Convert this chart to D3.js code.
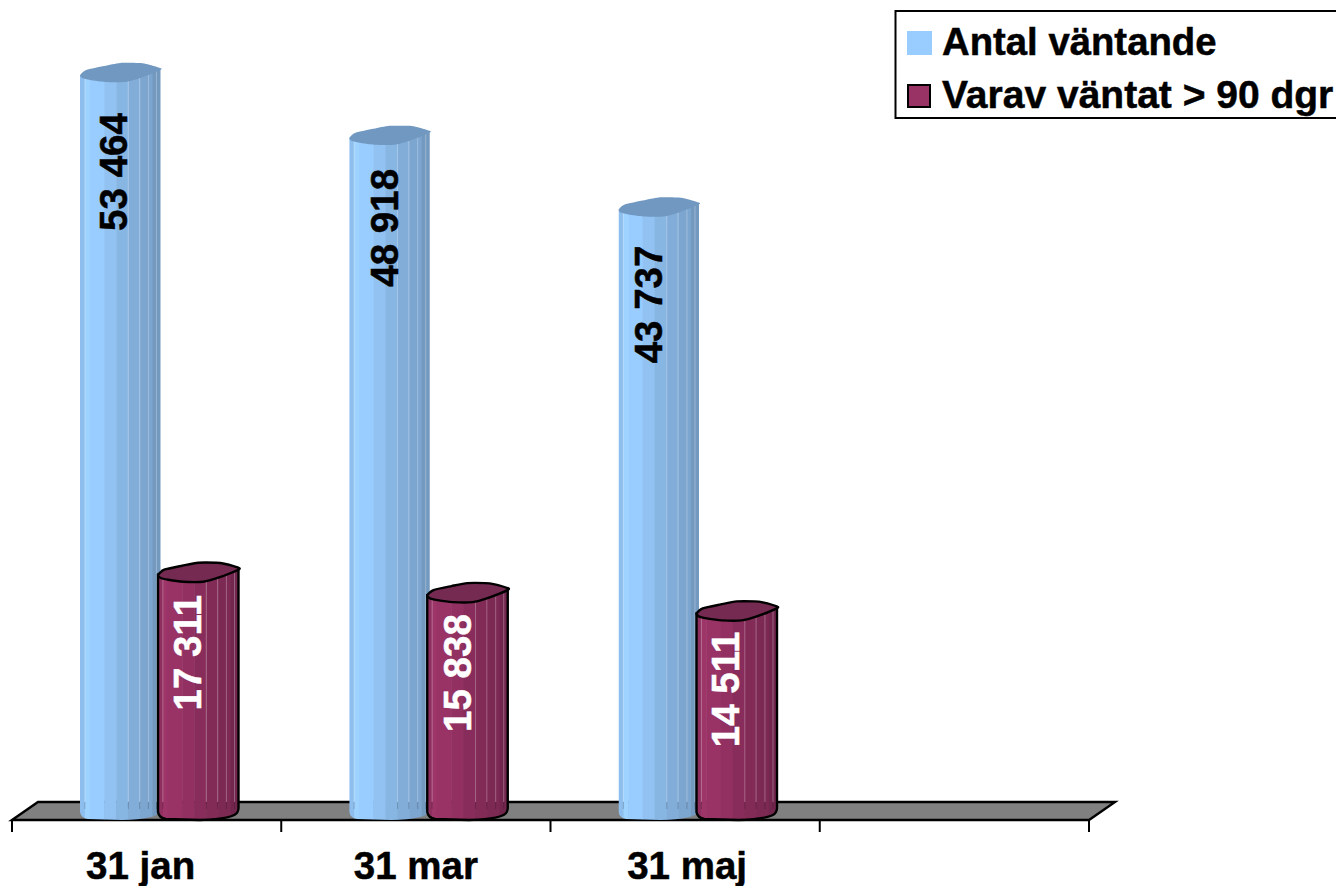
<!DOCTYPE html>
<html><head><meta charset="utf-8">
<script src="https://cdn.jsdelivr.net/npm/d3@7/dist/d3.min.js"></script>
<style>html,body{margin:0;padding:0;background:#fff;overflow:hidden}svg{display:block}text{font-family:"Liberation Sans",Arial,sans-serif;font-weight:700;stroke-width:.5px;paint-order:stroke}</style>
</head><body><svg id="c" width="1336" height="886"></svg>
<script>
const categories = ["31 jan","31 mar","31 maj",""];
const seriesNames = ["Antal väntande","Varav väntat > 90 dgr"];
const antalVantande = [53464,48918,43737];
const varavVantat = [17311,15838,14511];
const labelsAntal = ["53 464","48 918","43 737"];
const labelsVarav = ["17 311","15 838","14 511"];
const seriesColors = ["#99ccff","#993366"];
const topColors = ["#7098c0","#752a52"];

const svg = d3.select("#c");
const x = d3.scaleBand().domain(categories).range([12,1089]).paddingInner(0).paddingOuter(0);
const y = d3.scaleLinear().domain([0,53464]).range([811,72]);
const baseY = y(0);
const barW = 80.5, barOff = [68,146];

// floor
svg.append("polygon").attr("points","12,820 38,802 1115,802 1089,820")
  .attr("fill","#808080").attr("stroke","#000").attr("stroke-width",2.4);
// ticks
const tickX = categories.map(c=>x(c)).concat([x.range()[1]]);
svg.selectAll("line.t").data(tickX).join("line").attr("x1",d=>d).attr("x2",d=>d)
  .attr("y1",820).attr("y2",832).attr("stroke","#000").attr("stroke-width",2);
// axis labels
const labelShift=[-6,0,2];
svg.selectAll("text.cat").data(categories.slice(0,3)).join("text").attr("class","cat")
  .attr("x",(d,i)=>x(d)+x.bandwidth()/2+labelShift[i]).attr("y",879).attr("text-anchor","middle")
  .attr("font-size",38.5).attr("fill","#000").attr("stroke","#000").text(d=>d);

// cylinder facets: [start fraction, end fraction, shade]
const facets=[[0,.06,.93],[.06,.12,1.03],[.12,.3,1],[.3,.45,.95],[.45,.6,.89],[.6,.75,.85],[.75,.9,.81],[.9,1,.75]];
const glints=[.06,.6,.74,.85,.95];
const topOutline=[[-40,3],[-34,-2],[-16,-6],[0,-9],[18,-9],[26,-8],[40,-4],[40,-2],[20,6],[5,10],[-15,10],[-30,8],[-38,6]];
const topLine=d3.line().curve(d3.curveCardinalClosed.tension(.3));
let clipId=0;

function bar(value,cat,s){
  const x0=x(cat)+barOff[s], x1=x0+barW, cx=x0+barW/2, t=y(value), col=d3.rgb(seriesColors[s]);
  const body=`M${x0},${t+3}L${x0},${baseY+1}Q${x0+1},${baseY+7} ${x0+8},${baseY+8}L${x0+42},${baseY+9}Q${x1-4},${baseY+8} ${x1-1},${baseY+1}Q${x1},${baseY-1} ${x1},${baseY-3}L${x1},${t-3}Z`;
  const id="clip"+(clipId++);
  svg.append("clipPath").attr("id",id).append("path").attr("d",body);
  const g=svg.append("g").attr("clip-path",`url(#${id})`);
  g.selectAll("rect").data(facets).join("rect")
    .attr("x",d=>x0+d[0]*barW).attr("width",d=>(d[1]-d[0])*barW+.5)
    .attr("y",t-12).attr("height",baseY-t+24)
    .attr("fill",d=>d3.rgb(col.r*d[2],col.g*d[2],col.b*d[2]).formatHex());
  g.selectAll("line.g").data(glints).join("line")
    .attr("x1",d=>x0+d*barW).attr("x2",d=>x0+d*barW).attr("y1",t-12).attr("y2",baseY-9)
    .attr("stroke","#fff").attr("stroke-opacity",.28).attr("stroke-width",1);
  g.selectAll("line.d").data(glints).join("line")
    .attr("x1",d=>x0+d*barW).attr("x2",d=>x0+d*barW).attr("y1",baseY-9).attr("y2",baseY-2)
    .attr("stroke","#000").attr("stroke-opacity",.18).attr("stroke-width",1);
  if(s===1) svg.append("path").attr("d",body).attr("fill","none").attr("stroke","#000").attr("stroke-width",2.4);
  svg.append("path").attr("d",topLine(topOutline.map(p=>[cx+p[0],t+p[1]])))
    .attr("fill",topColors[s]).attr("stroke",s===1?"#000":"none").attr("stroke-width",2.4);
}
categories.slice(0,3).forEach((c,i)=>{bar(antalVantande[i],c,0);bar(varavVantat[i],c,1);});

// value labels
const labelX=[[33,35,30],[29,30,29]], labelDy=[[100,93,98],[81,81,79]];
function valLabel(txt,v,c,i,s){
  const px=x(c)+barOff[s]+labelX[s][i], py=y(v)+labelDy[s][i];
  const col=s===0?"#000":"#fff";
  svg.append("text").attr("transform",`translate(${px},${py}) rotate(-90)`)
    .attr("text-anchor","middle").attr("dominant-baseline","central").attr("font-size",38.5)
    .attr("fill",col).attr("stroke",col).text(txt);
}
categories.slice(0,3).forEach((c,i)=>{valLabel(labelsAntal[i],antalVantande[i],c,i,0);valLabel(labelsVarav[i],varavVantat[i],c,i,1);});

// legend
svg.append("rect").attr("x",895.5).attr("y",11).attr("width",460).attr("height",107)
  .attr("fill","#fff").attr("stroke","#000").attr("stroke-width",2);
svg.append("rect").attr("x",907).attr("y",31).attr("width",25).attr("height",24).attr("fill",seriesColors[0]);
svg.append("rect").attr("x",908).attr("y",85).attr("width",22).attr("height",22).attr("fill",seriesColors[1]).attr("stroke","#000").attr("stroke-width",2);
const legendSize=[38.3,39];
svg.selectAll("text.l").data(seriesNames).join("text").attr("class","l")
  .attr("x",942).attr("y",(d,i)=>55+i*53).attr("font-size",(d,i)=>legendSize[i]).attr("fill","#000").attr("stroke","#000").text(d=>d);
</script></body></html>
